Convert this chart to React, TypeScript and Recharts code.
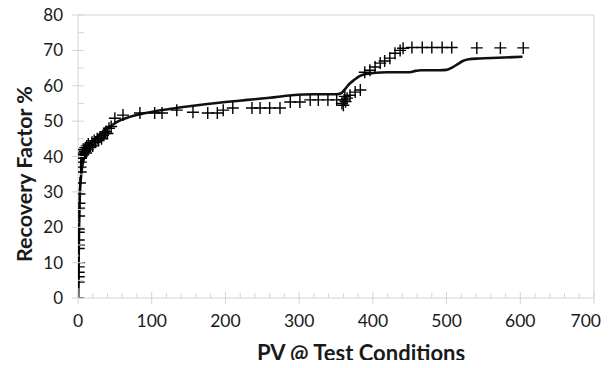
import React from "react";
import { ComposedChart, Line, Scatter, XAxis, YAxis, ReferenceLine } from "recharts";

// Measured points (cross markers)
const pointX = [
  0, 1, 1, 1, 1, 1, 1, 1, 1, 1, 1, 1.5, 1.5, 2, 2, 2.7, 3.7, 3.5, 4, 4,
  5, 6, 7, 8, 9, 10, 11, 12, 13, 14, 15, 17, 19, 20, 22, 24, 26, 28, 30, 32, 34, 36, 38, 40, 42, 45,
  50, 61, 84, 104, 114, 134, 156, 176, 189, 197, 210, 236, 247, 260, 274,
  288, 301, 315, 326, 339, 351, 358, 360, 361, 362, 363, 365, 369, 376, 383,
  389, 396, 403, 410, 416, 423, 430, 437, 441, 453, 467, 480, 494, 507, 541, 573, 604,
];
const pointY = [
  0, 4.5, 6, 7.3, 8.8, 10, 14, 15, 16.4, 18.6, 19.5, 23.2, 25.4, 26.8, 29.4, 32.5, 35.6, 37, 38.4, 39.5,
  40, 41, 40.5, 42, 41.5, 42.5, 41, 43, 42, 43.5, 42.5, 43, 44, 43, 44.5, 44, 45, 44.5, 45.5, 45, 46, 46.5, 47, 46.5, 48, 48.5,
  50.8, 51.7, 52.3, 52.3, 52.3, 53.1, 52.5, 52.3, 52.3, 53.1, 53.7, 53.7, 53.7, 53.7, 53.7,
  55.4, 55.4, 56, 56, 56, 56, 55, 54.5, 56, 57, 55.5, 56.5, 57.3, 58.2, 58.8,
  63.8, 64.4, 65.3, 66.4, 67, 67.8, 69.2, 70, 70.6, 70.8, 70.8, 70.8, 70.8, 70.8, 70.7, 70.7, 70.7,
];

// Fitted curve
const curveX = [
  0.3, 0.8, 1.5, 2.5, 4, 6, 9, 13, 18, 25, 35, 45, 55, 70, 90, 110, 140, 170, 200, 230, 260, 290, 320, 350,
  357, 362, 368, 375, 382, 390, 400, 420, 450, 458, 465, 490, 500, 508, 515, 522, 530, 545, 570, 603,
];
const curveY = [
  0, 10, 20, 29, 34, 37.5, 40, 42, 43.8, 45.3, 47.2, 48.7, 50, 51.2, 52.2, 53, 53.9, 54.7, 55.4, 56, 56.6, 57.3, 57.6, 57.6,
  57.9, 59, 60.5, 61.7, 62.7, 63.3, 63.6, 63.8, 63.8, 64.2, 64.4, 64.4, 64.5, 65.2, 66.1, 67, 67.5, 67.7, 67.9, 68.2,
];

const xTicks = Array.from({ length: 36 }, (_, i) => i * 20);
const yTicks = Array.from({ length: 17 }, (_, i) => i * 5);

const pointData = pointX.map((x, i) => ({ x, y: pointY[i] }));
const curveData = curveX.map((x, i) => ({ x, y: curveY[i] }));

const AXIS = "#d4d4d4";
const FONT = "Lato, 'Open Sans', sans-serif";
const TXT = "#1a1a1a";

const XTick = (props: any) => {
  const { x, y, payload } = props;
  const v = payload.value;
  const major = v % 100 === 0;
  const last = v === 700;
  return (
    <g>
      <line x1={x} x2={x} y1={major ? y - 6 : y - 5} y2={major ? y + 6 : y} stroke={AXIS} strokeWidth={1} />
      {major && (
        <text
          x={last ? x + 7 : x}
          y={y + 29}
          textAnchor={last ? "end" : "middle"}
          fontSize={17.5}
          fontFamily={FONT}
          fill={TXT}
        >
          {v}
        </text>
      )}
    </g>
  );
};

const YTick = (props: any) => {
  const { x, y, payload } = props;
  const v = payload.value;
  const major = v % 10 === 0;
  return (
    <g>
      <line x1={major ? x - 6 : x} x2={x + 6} y1={y} y2={y} stroke={AXIS} strokeWidth={1} />
      {major && (
        <text x={x - 15} y={y + 6} textAnchor="end" fontSize={17} fontFamily={FONT} fill={TXT}>
          {v}
        </text>
      )}
    </g>
  );
};

const Cross = (props: any) => {
  const { cx, cy } = props;
  if (cx == null || cy == null) return null;
  return (
    <path
      d={`M${cx - 6},${cy}H${cx + 6}M${cx},${cy - 6}V${cy + 6}`}
      stroke="#000"
      strokeWidth={1.4}
      fill="none"
    />
  );
};

export default function App() {
  return (
    <div style={{ position: "relative", width: 602, height: 352, overflow: "visible" }}>
      <style>{"html{overflow:hidden}body,#root{overflow:visible}svg,.recharts-wrapper,.recharts-surface{overflow:visible!important}"}</style>
      <ComposedChart
        width={602}
        height={352}
        margin={{ top: 7, right: 16, left: 0, bottom: 0 }}
        style={{ overflow: "visible" }}
      >
        <XAxis
          type="number"
          dataKey="x"
          domain={[0, 700]}
          ticks={xTicks}
          interval={0}
          tickSize={0}
          tickMargin={0}
          tick={<XTick />}
          tickLine={false}
          axisLine={{ stroke: AXIS }}
          height={62}
          allowDataOverflow
        />
        <YAxis
          type="number"
          dataKey="y"
          domain={[0, 80]}
          ticks={yTicks}
          interval={0}
          tickSize={0}
          tickMargin={0}
          tick={<YTick />}
          tickLine={false}
          axisLine={{ stroke: AXIS }}
          width={70}
          allowDataOverflow
        />
        <ReferenceLine y={80} stroke={AXIS} />
        <ReferenceLine x={700} stroke={AXIS} />
        <Scatter data={pointData} shape={<Cross />} isAnimationActive={false} />
        <Line
          data={curveData}
          dataKey="y"
          type="monotone"
          stroke="#111"
          strokeWidth={2.6}
          dot={false}
          activeDot={false}
          isAnimationActive={false}
        />
      </ComposedChart>
      <svg width={602} height={352} style={{ position: "absolute", left: 0, top: 0, pointerEvents: "none" }}>
        <text x={353} y={353} textAnchor="middle" fontSize={22} fontWeight="bold" fontFamily={FONT} fill={TXT}>
          PV @ Test Conditions
        </text>
        <text
          transform="translate(24,166) rotate(-90)"
          textAnchor="middle"
          fontSize={21.5}
          fontWeight="bold"
          fontFamily={FONT}
          fill={TXT}
        >
          Recovery Factor %
        </text>
      </svg>
    </div>
  );
}
